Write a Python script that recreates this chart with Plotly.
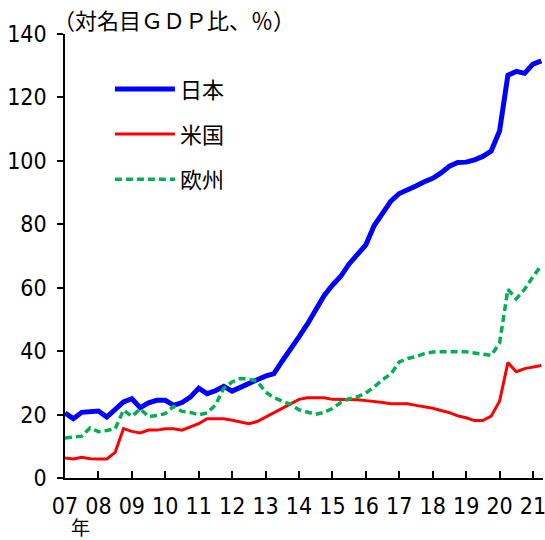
import plotly.graph_objects as go

# quarterly, 2007Q1 - 2021Q2
years = list(range(2007, 2022))
quarters = [(y, q) for y in years for q in range(1, 5)][:58]

japan = [20.5, 18.7, 20.7, 20.8, 21.1, 19.2, 21.6, 24.0,
         25.0, 22.2, 23.7, 24.5, 24.5, 22.9, 23.8, 25.5,
         28.3, 26.6, 27.5, 28.9, 27.4, 28.7, 29.8, 31.0,
         32.1, 32.9, 36.9, 40.5, 44.5, 48.5, 53.0, 57.5,
         60.8, 63.6, 67.5, 70.3, 73.5, 79.6, 83.6, 87.3,
         89.7, 91.1, 92.1, 93.4, 94.5, 96.2, 98.3, 99.5,
         99.6, 100.3, 101.4, 103.1, 109.4, 127.0, 128.2, 127.6,
         130.5, 131.5]

us = [6.3, 6.0, 6.5, 6.1, 6.0, 6.0, 8.1, 15.6,
      14.7, 14.2, 15.1, 15.1, 15.5, 15.5, 15.1, 16.1,
      17.1, 18.7, 18.7, 18.7, 18.2, 17.7, 17.1, 17.8,
      19.2, 20.5, 21.9, 23.5, 24.8, 25.3, 25.3, 25.3,
      24.8, 24.8, 24.8, 24.7, 24.4, 24.2, 23.8, 23.4,
      23.4, 23.4, 22.9, 22.5, 22.0, 21.3, 20.6, 19.6,
      19.0, 18.1, 18.1, 19.5, 24.2, 36.4, 33.5, 34.5,
      35.0, 35.5]

europe = [12.6, 12.9, 13.2, 15.8, 14.6, 15.0, 15.5, 21.4,
          19.4, 21.8, 19.3, 19.7, 20.3, 22.6, 21.0, 20.7,
          19.9, 20.5, 23.0, 28.3, 30.3, 31.4, 31.2, 30.5,
          27.1, 25.3, 24.2, 23.2, 21.5, 20.8, 20.1, 20.7,
          21.9, 23.8, 25.0, 25.6, 26.8, 28.7, 31.0, 32.8,
          36.6, 37.7, 38.3, 39.2, 39.7, 39.8, 39.8, 39.8,
          39.8, 39.4, 39.0, 38.7, 42.5, 59.5, 56.5, 59.5,
          63.5, 67.0]

tick_labels = [f"{y % 100:02d}" for y in years]

x = [y + (q - 1) / 4 for y, q in quarters]

num_font = "DejaVu Sans Condensed, Liberation Sans Narrow, sans-serif"
jp_font = "Noto Sans CJK JP"

fig = go.Figure()
fig.add_trace(go.Scatter(x=x, y=japan, name="日本", mode="lines", legendgroup="a",
                         line=dict(color="#0000FF", width=5)))
fig.add_trace(go.Scatter(x=x, y=us, name="米国", mode="lines", legendgroup="b",
                         line=dict(color="#FF0000", width=3)))
fig.add_trace(go.Scatter(x=x, y=europe, name="欧州", mode="lines", legendgroup="c",
                         line=dict(color="#00B050", width=3.5, dash="7px,4px")))

fig.update_layout(
    width=545, height=540,
    margin=dict(l=65, r=2, t=34, b=62),
    plot_bgcolor="white", paper_bgcolor="white",
    font=dict(family=num_font, size=23, color="black"),
    legend=dict(x=0.094, y=0.923, xanchor="left", yanchor="top",
                font=dict(family=jp_font, size=22),
                tracegroupgap=13.5, itemwidth=60, bgcolor="rgba(0,0,0,0)"),
    annotations=[
        dict(text="（対名目ＧＤＰ比、％）", xref="paper", yref="paper",
             x=0.228, y=1.034, xanchor="center", yanchor="middle",
             showarrow=False, font=dict(family=jp_font, size=22)),
        dict(text="年", xref="paper", yref="paper",
             x=0.033, y=-0.1082, xanchor="center", yanchor="middle",
             showarrow=False, font=dict(family=jp_font, size=19)),
    ],
)

fig.update_xaxes(range=[2007, 2021.3], tickvals=years, ticktext=tick_labels,
                 showline=True, linecolor="black", linewidth=1.5,
                 ticks="inside", ticklen=7, tickcolor="black", tickwidth=1.5,
                 showgrid=False, zeroline=False, ticklabelstandoff=7,
                 ticklabeloverflow="allow", automargin=False)
fig.update_yaxes(range=[0, 140], dtick=20,
                 showline=True, linecolor="black", linewidth=1.5,
                 ticks="outside", ticklen=6, tickcolor="black", tickwidth=1.5,
                 showgrid=False, zeroline=False, ticklabelstandoff=6,
                 automargin=False)

# drop the default body margin so the figure fills the window
fig.write_html("out.html", config={"displayModeBar": False},
               post_script="document.body.style.margin='0px';")
